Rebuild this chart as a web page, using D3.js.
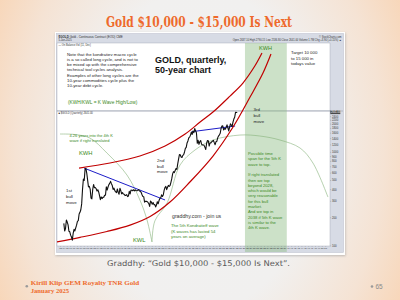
<!DOCTYPE html>
<html>
<head>
<meta charset="utf-8">
<script src="https://cdn.jsdelivr.net/npm/d3@7"></script>
<style>
  body { margin: 0; }
  svg { display: block; }
  .sans { font-family: "Liberation Sans", Arial, sans-serif; }
  .serif { font-family: "DejaVu Serif", "Liberation Serif", serif; }
  .axis text { font-family: "Liberation Sans", Arial, sans-serif; fill: #333; }
  .axis line { stroke: #777; stroke-width: 0.3; }
</style>
</head>
<body>
<svg id="slide" width="400" height="300"></svg>
<script>
// ---- data ----
const goldYears = d3.range(1974, 2026);
// quarterly gold closes (Q1..Q4), last year only the partial first quarter
const goldQuarterly = [
    [172, 143, 152, 187], [178, 166, 142, 140], [129, 123, 114, 135], [149, 143, 154, 165],
    [181, 184, 217, 226], [241, 278, 397, 512], [494, 653, 666, 590], [499, 422, 428, 400],
    [320, 315, 397, 448], [414, 416, 405, 382], [394, 373, 341, 309], [330, 317, 326, 327],
    [344, 345, 423, 391], [421, 447, 460, 484], [457, 436, 397, 410], [385, 373, 366, 401],
    [368, 352, 408, 386], [356, 367, 354, 353], [341, 343, 349, 333], [337, 378, 355, 391],
    [389, 385, 394, 383], [392, 387, 384, 387], [396, 382, 379, 369], [348, 334, 332, 290],
    [297, 296, 294, 288], [280, 261, 299, 290], [276, 288, 273, 274], [258, 270, 293, 279],
    [302, 318, 323, 347], [334, 346, 388, 416], [427, 395, 418, 438], [427, 437, 473, 517],
    [582, 614, 599, 632], [663, 650, 743, 834], [933, 930, 880, 869], [916, 934, 996, 1087],
    [1115, 1244, 1307, 1405], [1439, 1505, 1620, 1531], [1668, 1598, 1772, 1675], [1598, 1234, 1328, 1202],
    [1284, 1322, 1210, 1184], [1183, 1172, 1115, 1060], [1234, 1320, 1313, 1152], [1249, 1242, 1280, 1303],
    [1325, 1253, 1192, 1281], [1295, 1409, 1472, 1517], [1577, 1780, 1887, 1895], [1715, 1771, 1743, 1829],
    [1942, 1807, 1672, 1826], [1986, 1929, 1866, 2072], [2238, 2339, 2640, 2624], [2641]
];
const lastClose = 2641;

// annotation curves: [year, price]
const upperChannel = [[1978.6, 671], [1987.7, 759], [1996.5, 902], [2003.9, 1153], [2009.8, 1548],
    [2014.2, 2078], [2018, 2658], [2023, 3937], [2026.8, 5423], [2030.3, 8230], [2032.4, 11330]];
const lowerChannel = [[1972.1, 109], [1978.9, 122], [1986.8, 141], [1993.6, 165], [1999.5, 204],
    [2005.35, 291], [2011.2, 476], [2018, 902], [2023.9, 1839], [2028.9, 3842], [2032.7, 6929], [2035.05, 11050]];
const kWave4 = [[1973, 1548], [1977.4, 1529], [1981.8, 1403], [1986.8, 971], [1992.7, 565],
    [1996.5, 306], [1998.6, 187], [2000.05, 109]];
const kWave5 = [[2000.05, 109], [2000.9, 183], [2004.5, 284], [2008.3, 723], [2012.7, 1045],
    [2018, 1336], [2025.95, 1510], [2031.8, 1474], [2037.7, 1336], [2043.6, 1098], [2047.4, 759], [2051.8, 329]];
const resistance1 = [[1980.05, 671], [2003.9, 306]];
const resistance2 = [[2011.7, 1638], [2024.5, 1884]];
const topWindow = [2027.4, 2039.7];

const priceTicks = [100, 200, 300, 400, 500, 600, 700, 800, 900, 1000,
    1200, 1400, 1600, 1800, 2000, 2200, 2400];
const yearTicks = d3.range(1973, 2052);

// ---- texts ----
const noteLines = ["Note that the kondratiev macro cycle", "is a so called long cycle, and is not to",
    "be mixed up with the comprehensive", "technical tool cycles analysis.",
    "Examples of other long cycles are the", "10-year commodities cycle plus the", "10-year debt cycle."];
const bandLines = ["Possible time", "span for the 5th K", "wave to top.", "", "If right translated",
    "then we top", "beyond 2028,", "which would be", "very reasonable", "for this bull", "market.",
    "And we top in", "2038 if 5th K wave", "is similar to the", "4th K wave."];

// ---- slide ----
const svg = d3.select("#slide");
const defs = svg.append("defs");

const bg = defs.append("radialGradient")
    .attr("id", "bg")
    .attr("gradientUnits", "userSpaceOnUse")
    .attr("cx", 200).attr("cy", 150).attr("r", 230)
    .attr("gradientTransform", "translate(200,150) scale(1,1.4) translate(-200,-150)");
bg.append("stop").attr("offset", "0%").attr("stop-color", "#f1f1f1");
bg.append("stop").attr("offset", "50%").attr("stop-color", "#f1f0ef");
bg.append("stop").attr("offset", "80%").attr("stop-color", "#f5e3d4");
bg.append("stop").attr("offset", "100%").attr("stop-color", "#f8d6b8");

const shadow = defs.append("filter").attr("id", "shadow").attr("x", "-5%").attr("y", "-5%")
    .attr("width", "110%").attr("height", "110%");
shadow.append("feDropShadow").attr("dx", 0.5).attr("dy", 1).attr("stdDeviation", 1)
    .attr("flood-color", "#888").attr("flood-opacity", 0.5);

defs.append("clipPath").attr("id", "plotClip")
    .append("rect").attr("x", 57).attr("y", 43).attr("width", 273).attr("height", 203);
defs.append("clipPath").attr("id", "mainClip")
    .append("rect").attr("x", 57).attr("y", 111).attr("width", 273).attr("height", 135);

svg.append("rect").attr("width", 400).attr("height", 300).attr("fill", "url(#bg)");

// Title
svg.append("text")
    .attr("class", "serif")
    .attr("x", 199).attr("y", 27)
    .attr("text-anchor", "middle")
    .attr("font-size", 15).attr("font-weight", "bold")
    .attr("textLength", 186).attr("lengthAdjust", "spacingAndGlyphs")
    .attr("fill", "#ee6a2c")
    .text("Gold $10,000 - $15,000 Is Next");

// chart picture frame
svg.append("rect").attr("x", 55).attr("y", 32).attr("width", 290).attr("height", 223)
    .attr("fill", "#fff").attr("filter", "url(#shadow)");
svg.append("rect").attr("x", 56.3).attr("y", 33.3).attr("width", 287.4).attr("height", 219.4)
    .attr("fill", "#d7dbe5").attr("stroke", "#b9bdc9").attr("stroke-width", 0.4);
svg.append("rect").attr("x", 57).attr("y", 43).attr("width", 273).attr("height", 68)
    .attr("fill", "#fff").attr("stroke", "#9aa0ae").attr("stroke-width", 0.4);
svg.append("rect").attr("x", 57).attr("y", 111).attr("width", 273).attr("height", 135)
    .attr("fill", "#fff").attr("stroke", "#9aa0ae").attr("stroke-width", 0.4);
svg.append("line").attr("x1", 57).attr("x2", 343).attr("y1", 111).attr("y2", 111)
    .attr("stroke", "#8a90a0").attr("stroke-width", 0.5);

// scales
const xScale = d3.scaleLinear().domain([1972, 2052]).range([56.6, 328.6]);
const yScale = d3.scaleLog().domain([100, 2641]).range([245.5, 112.3]);

// green time window
svg.append("rect")
    .attr("x", xScale(topWindow[0])).attr("y", 43)
    .attr("width", xScale(topWindow[1]) - xScale(topWindow[0])).attr("height", 209)
    .attr("fill", "#8fbc84").attr("opacity", 0.45);

// header text
const hdr = svg.append("g").attr("class", "sans").attr("fill", "#333");
hdr.append("text").attr("x", 58.5).attr("y", 37.6).attr("font-size", 3).attr("font-weight", "bold")
    .text("$GOLD").append("tspan").attr("font-weight", "normal").text(" Gold - Continuous Contract (EOD) CME");
hdr.append("text").attr("x", 58.5).attr("y", 40.8).attr("font-size", 2.6).text("5-Jan-2025");
hdr.append("text").attr("x", 341.5).attr("y", 37.6).attr("font-size", 2.6).attr("text-anchor", "end")
    .text("© StockCharts.com");
hdr.append("text").attr("x", 341.5).attr("y", 40.8).attr("font-size", 2.6).attr("text-anchor", "end")
    .text("Open 2637.10  High 2790.15  Low 2536.80  Close 2641.00  Volume 1.7M  Chg +3.90 (+0.15%) ▲");
hdr.append("text").attr("x", 58.5).attr("y", 45.6).attr("font-size", 2.6)
    .text("— On Balance Vol (11, Dec)");
hdr.append("text").attr("x", 58.5).attr("y", 114.4).attr("font-size", 2.6)
    .text("■ $GOLD (Quarterly) 2641.00");

// axes
const yAxis = d3.axisRight(yScale).tickValues(priceTicks).tickSize(1.2).tickPadding(0.8)
    .tickFormat(d3.format("d"));
const yAx = svg.append("g").attr("class", "axis").attr("transform", "translate(330,0)").call(yAxis);
yAx.select(".domain").remove();
yAx.selectAll("text").attr("font-size", 2.8);

const xAxis = d3.axisBottom(xScale).tickValues(yearTicks).tickSize(0.8).tickPadding(0.6)
    .tickFormat(d => String(d).slice(2));
const xAx = svg.append("g").attr("class", "axis").attr("transform", "translate(0,246)").call(xAxis);
xAx.select(".domain").remove();
xAx.selectAll("text").attr("font-size", 2.4).attr("fill", "#555");

// last price marker
const lastY = yScale(lastClose);
svg.append("rect").attr("x", 330.3).attr("y", lastY - 1.8).attr("width", 10).attr("height", 3.6)
    .attr("fill", "#4a4a4a");
svg.append("text").attr("class", "sans").attr("x", 331).attr("y", lastY + 1).attr("font-size", 2.6)
    .attr("fill", "#fff").text("2641.00");

// price series
const series = goldQuarterly.flatMap((qs, i) => qs.map((v, q) => [goldYears[i] + q / 4 + 0.125, v]));
const line = d3.line().x(d => xScale(d[0])).y(d => yScale(d[1]));
const smooth = d3.line().x(d => xScale(d[0])).y(d => yScale(d[1])).curve(d3.curveCatmullRom);

const plot = svg.append("g").attr("clip-path", "url(#plotClip)");

plot.append("path").datum(kWave4).attr("d", smooth)
    .attr("fill", "none").attr("stroke", "#86b27a").attr("stroke-width", 0.6);
plot.append("path").datum(kWave5).attr("d", smooth)
    .attr("fill", "none").attr("stroke", "#86b27a").attr("stroke-width", 0.6);

svg.append("g").attr("clip-path", "url(#mainClip)")
    .append("path").datum(series).attr("d", line)
    .attr("fill", "none").attr("stroke", "#111").attr("stroke-width", 1.1)
    .attr("stroke-linejoin", "round");

[resistance1, resistance2].forEach(seg => {
    plot.append("path").datum(seg).attr("d", line)
        .attr("fill", "none").attr("stroke", "#1c1cc8").attr("stroke-width", 1);
});
[upperChannel, lowerChannel].forEach(c => {
    plot.append("path").datum(c).attr("d", smooth)
        .attr("fill", "none").attr("stroke", "#c00000").attr("stroke-width", 1.2);
});

// text annotations
function addLines(g, lines, x, y0, step, size, color, weight, cls) {
    return g.append("text")
        .attr("class", cls || "sans")
        .attr("font-size", size)
        .attr("font-weight", weight || "normal")
        .attr("fill", color)
        .selectAll("tspan")
        .data(lines)
        .join("tspan")
        .attr("x", x)
        .attr("y", (d, i) => y0 + i * step)
        .text(d => d);
}
const ann = svg.append("g");
const green = "#3b8a24";
addLines(ann, noteLines, 67, 55.5, 5.25, 4.3, "#222");
addLines(ann, ["(KWH/KWL = K Wave High/Low)"], 68, 103.5, 0, 4.8, green);
addLines(ann, ["GOLD, quarterly,", "50-year chart"], 155, 63, 10.3, 9, "#111", "bold");
addLines(ann, ["KWH"], 259, 49.5, 0, 5.6, green);
addLines(ann, ["Target 10 000", "to 15 000 in", "todays value"], 291, 54, 5.6, 4.3, "#222");
addLines(ann, ["3rd", "bull", "move"], 253.5, 110.5, 6, 4.4, "#222");
addLines(ann, ["4.26 years into the 4th K", "wave if right translated"], 69.5, 137, 5, 4, green);
addLines(ann, ["KWH"], 79, 155, 0, 5.8, green);
addLines(ann, ["1st", "bull", "move"], 66, 192, 6, 4.4, "#222");
addLines(ann, ["2nd", "bull", "move"], 157, 162, 5.6, 4.4, "#222");
addLines(ann, ["KWL"], 133, 242, 0, 5.8, green);
addLines(ann, ["graddhy.com - join us"], 172, 217.5, 0, 5.2, "#333");
addLines(ann, ["The 5th Kondratieff wave", "(K waves has lasted 54", "years on average)"], 171, 227, 5.6, 4.3, green);
addLines(ann, bandLines, 248, 155, 5.3, 4.2, green);

// caption & footer
svg.append("text")
    .attr("x", 198.5).attr("y", 265.5)
    .attr("text-anchor", "middle")
    .attr("font-family", "'DejaVu Sans', sans-serif")
    .attr("font-size", 7.8)
    .attr("textLength", 183).attr("lengthAdjust", "spacingAndGlyphs")
    .attr("fill", "#595959")
    .text("Graddhy: “Gold $10,000 - $15,000 Is Next”.");

svg.append("circle").attr("cx", 26.8).attr("cy", 286.3).attr("r", 1.3).attr("fill", "#9a9a9a");
addLines(svg, ["Kirill Klip GEM Royalty TNR Gold", "January 2025"], 30.7, 284.5, 8, 7, "#ee6a2c", "bold",
    "footer")
    .attr("font-family", "'Liberation Serif', serif")
    .attr("textLength", (d, i) => i === 0 ? 108.5 : 38.5)
    .attr("lengthAdjust", "spacingAndGlyphs");

svg.append("circle").attr("cx", 372).attr("cy", 286.5).attr("r", 1.3).attr("fill", "#9a9a9a");
svg.append("text").attr("class", "sans").attr("x", 375.5).attr("y", 289).attr("font-size", 6.5)
    .attr("fill", "#8a8a8a").text("65");
</script>
</body>
</html>
